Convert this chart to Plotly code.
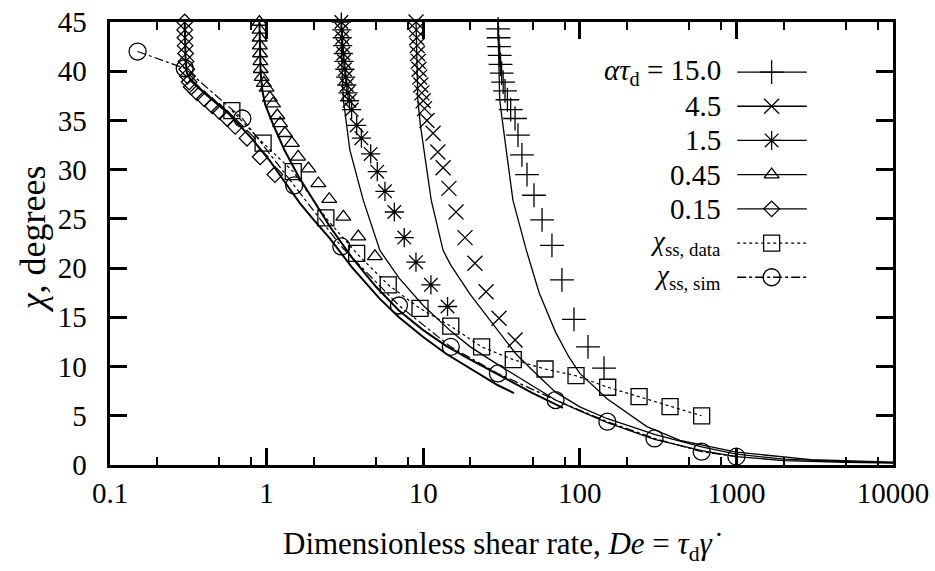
import plotly.graph_objects as go

# ---------------- data ----------------
# measured points for each alpha*tau_d
PLUS_15_X = [30.1, 30.3, 30.5, 30.8, 31.2, 31.7, 32.4, 33.3, 34.5, 36.2, 38.6, 40.3, 42.7,
             46.0, 51.0, 57.4, 66.4, 76.9, 91.8, 112.8, 142.8]
PLUS_15_Y = [44.3, 43.4, 42.5, 41.6, 40.7, 39.8, 38.9, 38.0, 37.1, 36.1, 35.2, 33.5, 31.5,
             29.5, 27.4, 24.9, 22.3, 18.8, 14.8, 12.0, 9.85]

CROSS_45_X = [9.0, 9.05, 9.1, 9.15, 9.2, 9.3, 9.4, 9.5, 9.65, 9.8, 10.0, 10.2,
              10.57, 11.56, 12.4, 13.4, 14.6, 16.2, 18.5, 21.4, 25.2, 30.5, 38.6]
CROSS_45_Y = [45.0, 44.2, 43.4, 42.6, 41.8, 41.0, 40.2, 39.4, 38.6, 37.8, 37.0, 36.2,
              35.0, 33.7, 31.8, 30.2, 28.1, 25.7, 23.1, 20.5, 17.6, 14.9, 12.7]

STAR_15_X = [3.0, 3.02, 3.04, 3.06, 3.09, 3.12, 3.16, 3.2, 3.25, 3.31, 3.38, 3.49,
             3.76, 4.03, 4.62, 5.09, 5.70, 6.54, 7.57, 8.99, 11.2, 14.3]
STAR_15_Y = [45.0, 44.2, 43.4, 42.6, 41.8, 41.0, 40.2, 39.4, 38.6, 37.8, 37.0, 36.1,
             34.5, 33.2, 31.6, 29.8, 27.8, 25.7, 23.1, 20.6, 18.3, 16.1]

TRI_045_X = [0.900, 0.901, 0.903, 0.905, 0.908, 0.912, 0.917, 0.93, 0.96, 1.00, 1.05,
             1.10, 1.17, 1.22, 1.31, 1.45, 1.59, 1.85, 2.14, 2.51, 3.09, 3.85, 4.92]
TRI_045_Y = [45.0, 44.2, 43.4, 42.6, 41.8, 41.0, 40.2, 39.4, 38.8, 38.3, 37.3,
             36.7, 35.5, 34.7, 33.7, 32.7, 31.3, 30.1, 28.6, 27.0, 25.2, 23.2, 21.2]

DIA_015_X = [0.300, 0.300, 0.301, 0.302, 0.304, 0.306, 0.309, 0.313, 0.32, 0.33,
             0.36, 0.40, 0.45, 0.50, 0.56, 0.63, 0.75, 0.91, 1.13]
DIA_015_Y = [45.0, 44.2, 43.4, 42.6, 41.8, 41.0, 40.2, 39.5, 38.9, 38.4,
             37.8, 37.2, 36.5, 35.9, 35.2, 34.4, 33.2, 31.3, 29.5]

# steady-state extinction angle: measured and simulated
SS_DATA_X = [0.6, 0.95, 1.48, 2.39, 3.76, 5.98, 9.54, 15.0, 23.6, 37.6, 60.0, 94.6,
             150.7, 239, 377, 600]
SS_DATA_Y = [36.0, 32.7, 29.8, 25.1, 21.5, 18.3, 15.9, 14.1, 12.0, 10.7, 9.75, 9.07,
             7.9, 6.94, 5.92, 5.0]

SS_SIM_X = [0.15, 0.3, 0.7, 1.5, 3.0, 7.0, 15, 30, 70, 150, 300, 600, 1000]
SS_SIM_Y = [42.0, 40.3, 35.2, 28.4, 22.2, 16.2, 12.0, 9.3, 6.6, 4.4, 2.7, 1.35, 0.85]

# model curves for each alpha*tau_d
CURVE_15_X = [30, 30.3, 30.8, 32, 33.8, 37.4, 45.6, 55, 70, 85, 100, 150, 268, 436,
              1000, 3000, 10000]
CURVE_15_Y = [45, 41, 37.1, 35.0, 32.0, 26.9, 21.8, 17.5, 13.5, 11.0, 9.3, 6.7, 3.9, 2.5,
              1.3, 0.55, 0.3]

CURVE_45_X = [9, 9.08, 9.24, 9.6, 10.1, 11.25, 13.4, 15, 20, 25, 39, 50, 70, 100, 150,
              300, 600, 1000, 2000, 5000, 10000]
CURVE_45_Y = [45, 41, 37.1, 34.5, 32, 26.9, 21.8, 20.3, 17.3, 15.3, 11.3, 9.6, 7.4, 5.9,
              4.7, 3.1, 1.85, 1.1, 0.6, 0.35, 0.25]

CURVE_15B_X = [3, 3.02, 3.09, 3.4, 4.14, 5.29, 7, 10, 15, 20, 30, 50, 70, 100, 150, 300,
               600, 1000, 2000, 5000, 10000]
CURVE_15B_Y = [45, 41, 37.1, 32, 26.9, 21.8, 19, 16.2, 13.6, 12, 10.2, 8.0, 6.6, 5.5,
               4.3, 2.6, 1.45, 0.85, 0.45, 0.28, 0.2]

CURVE_045_X = [0.9, 0.903, 0.915, 0.94, 0.98, 1.1, 1.3, 1.6, 2.0, 2.54, 3.5, 5, 7, 10,
               14, 20, 30, 50, 78]
CURVE_045_Y = [45, 42.5, 40, 38, 36.6, 34.6, 32.0, 29.3, 26.8, 24.2, 21.1, 18.1, 15.7,
               13.7, 12.1, 10.7, 9.2, 7.3, 5.8]

CURVE_015_X = [0.3, 0.301, 0.304, 0.31, 0.33, 0.4, 0.58, 0.8, 1.05, 1.3, 1.63, 2.0,
               2.54, 3.5, 5.27, 7, 10, 14, 20, 30, 38]
CURVE_015_Y = [45, 43, 41, 39.8, 39.0, 37.8, 35.6, 33.2, 30.9, 28.8, 26.6, 24.9,
               23.0, 20.1, 16.9, 15.0, 13.0, 11.3, 9.8, 8.1, 7.3]

X_TICKS = [0.1, 1, 10, 100, 1000, 10000]
X_TICK_TEXT = ["0.1", "1", "10", "100", "1000", "10000"]
X_MINOR = [m * d for d in [0.1, 1, 10, 100, 1000] for m in (2, 5, 8)]
Y_TICKS = [0, 5, 10, 15, 20, 25, 30, 35, 40, 45]

LEGEND_LABELS = [
    "<i>ατ</i><sub>d</sub> = 15.0",
    "4.5",
    "1.5",
    "0.45",
    "0.15",
    "<i>χ</i><sub>ss, data</sub>",
    "<i>χ</i><sub>ss, sim</sub>",
]

# ---------------- drawing ----------------
FONT = "Liberation Serif"
INK = "black"
X_LOG_RANGE = (-1, 4)
Y_RANGE = (0, 45)

fig = go.Figure()


def add_curve(x, y, width, dash="solid"):
    fig.add_trace(go.Scatter(x=x, y=y, mode="lines", showlegend=False,
                             line=dict(color=INK, width=width, dash=dash),
                             hoverinfo="skip"))


def add_points(x, y, symbol, size, mode="markers", dash="solid", width=1.3):
    fig.add_trace(go.Scatter(x=x, y=y, mode=mode, cliponaxis=False, showlegend=False,
                             line=dict(color=INK, width=1.2, dash=dash),
                             marker=dict(symbol=symbol, size=size, color=INK,
                                         line=dict(color=INK, width=width)),
                             hoverinfo="skip"))


# model curves
add_curve(CURVE_015_X, CURVE_015_Y, 2.0)
add_curve(CURVE_045_X, CURVE_045_Y, 2.0)
add_curve(CURVE_15B_X, CURVE_15B_Y, 1.3)
add_curve(CURVE_45_X, CURVE_45_Y, 1.3)
add_curve(CURVE_15_X, CURVE_15_Y, 1.3)

# steady-state series
add_points(SS_DATA_X, SS_DATA_Y, "square-open", 16, mode="lines+markers", dash="dot")
add_points(SS_SIM_X, SS_SIM_Y, "circle-open", 17, mode="lines+markers",
           dash="dashdot")

# transient points
add_points(DIA_015_X, DIA_015_Y, "diamond-open", 12)
add_points(TRI_045_X, TRI_045_Y, "triangle-up-open", 13)
add_points(STAR_15_X, STAR_15_Y, "asterisk-open", 16)
add_points(CROSS_45_X, CROSS_45_Y, "x-thin-open", 15)
add_points(PLUS_15_X, PLUS_15_Y, "cross-thin-open", 17)


def frac_to_x(f):
    return 10 ** (X_LOG_RANGE[0] + f * (X_LOG_RANGE[1] - X_LOG_RANGE[0]))


def frac_to_y(f):
    return Y_RANGE[0] + f * (Y_RANGE[1] - Y_RANGE[0])


# key: label on the left, sample line with its marker on the right
key_symbols = ["cross-thin-open", "x-thin-open", "asterisk-open", "triangle-up-open",
               "diamond-open", "square-open", "circle-open"]
key_sizes = [17, 15, 16, 13, 12, 16, 17]
key_dash = ["solid"] * 5 + ["dot", "dashdot"]
row0, row_step = 0.887, 0.0772
x_left, x_mid, x_right, x_text = 0.801, 0.845, 0.890, 0.783
annotations = []
for i, label in enumerate(LEGEND_LABELS):
    yy = row0 - i * row_step
    fig.add_trace(go.Scatter(x=[frac_to_x(x_left), frac_to_x(x_right)],
                             y=[frac_to_y(yy)] * 2, mode="lines", showlegend=False,
                             line=dict(color=INK, width=1.3, dash=key_dash[i]),
                             hoverinfo="skip"))
    fig.add_trace(go.Scatter(x=[frac_to_x(x_mid)], y=[frac_to_y(yy)], mode="markers",
                             showlegend=False,
                             marker=dict(symbol=key_symbols[i], size=key_sizes[i],
                                         color=INK, line=dict(color=INK, width=1.3)),
                             hoverinfo="skip"))
    annotations.append(dict(x=x_text, y=yy, xref="paper", yref="paper",
                            xanchor="right", yanchor="middle", showarrow=False,
                            text=label,
                            font=dict(family=FONT, size=29 if i < 5 else 27,
                                      color=INK)))

# axis titles
annotations.append(dict(x=0.5, y=-0.183, xref="paper", yref="paper",
                        xanchor="center", yanchor="middle", showarrow=False,
                        text="Dimensionless shear rate, <i>De</i> = <i>τ</i><sub>d</sub><i>γ̇</i>",
                        font=dict(family=FONT, size=31, color=INK)))
annotations.append(dict(x=-0.098, y=0.51, xref="paper", yref="paper",
                        xanchor="center", yanchor="middle", showarrow=False,
                        textangle=-90, text="<i>χ</i>, degrees",
                        font=dict(family=FONT, size=36, color=INK)))

axis_common = dict(showline=True, linewidth=3, linecolor=INK, mirror="ticks",
                   ticks="inside", tickwidth=2.5, tickcolor=INK, ticklen=17,
                   showgrid=False, zeroline=False,
                   tickfont=dict(family=FONT, size=29, color=INK))

fig.update_layout(
    template="none",
    width=935, height=571,
    margin=dict(l=110, r=42, t=22, b=106),
    font=dict(family=FONT, size=29, color=INK),
    xaxis=dict(type="log", range=list(X_LOG_RANGE), tickmode="array", tickvals=X_TICKS,
               ticktext=X_TICK_TEXT,
               minor=dict(ticks="inside", ticklen=8, tickwidth=2, tickcolor=INK,
                          tickmode="array", tickvals=X_MINOR, showgrid=False),
               **axis_common),
    yaxis=dict(range=list(Y_RANGE), tickmode="array", tickvals=Y_TICKS,
               ticktext=[f"{v}\u00a0\u00a0" for v in Y_TICKS], **axis_common),
    annotations=annotations,
)

fig.write_html("out.html")
